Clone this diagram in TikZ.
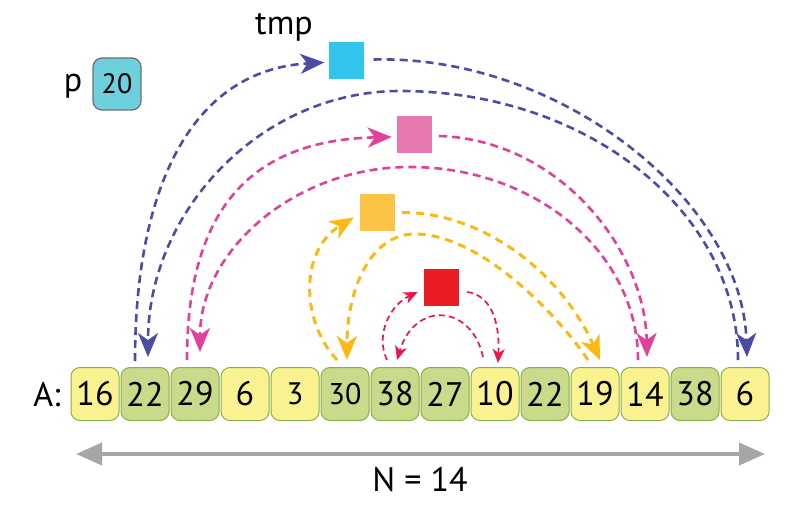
\documentclass[tikz,border=0pt]{standalone}
\usepackage{fontspec}
\setmainfont{PT Sans}
\usetikzlibrary{arrows.meta,calc}
\definecolor{cellY}{HTML}{FAF291}
\definecolor{cellG}{HTML}{C9DA8B}
\definecolor{cellB}{HTML}{8BAE48}
\definecolor{pfill}{HTML}{6ECFDD}
\definecolor{pbord}{HTML}{6D6E71}
\definecolor{sqB}{HTML}{33C4EC}
\definecolor{sqP}{HTML}{E678AF}
\definecolor{sqY}{HTML}{FCC447}
\definecolor{sqR}{HTML}{EC1C24}
\definecolor{arB}{HTML}{4A4DA3}
\definecolor{arP}{HTML}{E0429A}
\definecolor{arY}{HTML}{FDB913}
\definecolor{arR}{HTML}{E8184A}
\definecolor{grayA}{HTML}{A6A6A6}
\begin{document}
\begin{tikzpicture}[x=1pt,y=-1pt,
  cell/.style={draw=cellB, line width=1pt, rounded corners=9pt, minimum width=48pt, minimum height=53pt, inner sep=0pt, font=\fontsize{34}{34}\selectfont},
  cy/.style={cell, fill=cellY},
  cg/.style={cell, fill=cellG},
  sq/.style={minimum width=35pt, minimum height=37pt, inner sep=0pt},
  lbl/.style={font=\fontsize{34}{34}\selectfont, inner sep=0pt, anchor=base},
  bigtip/.style={-{Stealth[length=24pt,width=20pt,inset=7pt]}},
  smalltip/.style={-{Stealth[length=14pt,width=12pt,inset=4pt]}},
  bl/.style={draw=arB, line width=2.6pt, dash pattern=on 8pt off 5pt, bigtip},
  pk/.style={draw=arP, line width=2.6pt, dash pattern=on 8pt off 5pt, bigtip},
  yl/.style={draw=arY, line width=3pt, dash pattern=on 8pt off 6pt, bigtip},
  rd/.style={draw=arR, line width=1.7pt, dash pattern=on 6pt off 4pt, smalltip},
  grayarr/.style={draw=grayA, line width=4pt, {Triangle[length=26pt,width=22pt]}-{Triangle[length=26pt,width=22pt]}}
]
\useasboundingbox (0,0) rectangle (802,505);

% labels
\node[lbl] (lp) at (73,92) {p};
\node[lbl] (ltmp) at (284,35) {tmp};
\node[lbl] (lA) at (47,406) {A:};
\node[lbl] (lN) at (420,491) {N = 14};

% p box
\node[draw=pbord, line width=1.2pt, fill=pfill, rounded corners=9pt, minimum width=48pt, minimum height=52pt, inner sep=0pt, font=\fontsize{28}{28}\selectfont] (pbox) at (117,84) {20};

% array cells
\node[cy] (c0) at (95,394) {16};
\node[cg] (c1) at (145,394) {22};
\node[cg] (c2) at (195,394) {29};
\node[cy] (c3) at (245,394) {6};
\node[cy, font=\fontsize{31}{31}\selectfont] (c4) at (295,394) {3};
\node[cg, font=\fontsize{30}{30}\selectfont] (c5) at (345,394) {30};
\node[cg] (c6) at (395,394) {38};
\node[cg] (c7) at (445,394) {27};
\node[cy] (c8) at (495,394) {10};
\node[cg] (c9) at (545,394) {22};
\node[cy] (c10) at (595,394) {19};
\node[cy] (c11) at (645,394) {14};
\node[cg] (c12) at (695,394) {38};
\node[cy] (c13) at (745,394) {6};

% tmp squares
\node[sq, fill=sqB] (tb) at (346,60.5) {};
\node[sq, fill=sqP] (tp) at (414.5,135) {};
\node[sq, fill=sqY] (ty) at (377.5,212.5) {};
\node[sq, fill=sqR] (tr) at (441.5,287) {};

% blue swap
\draw[bl] ($(c1.north)+(-10,-6)$) .. controls (135,190) and (190,70) .. ($(tb.west)+(-4,2)$);
\draw[bl] ($(tb.east)+(10,-1)$) .. controls (560,55) and (742,200) .. ($(c13.north)+(2,-10)$);
\draw[bl] ($(c13.north)+(-7,-7)$) .. controls (738,211) and (587,91) .. (400,91) .. controls (261,91) and (148,211) .. ($(c1.north)+(3,-10)$);

% pink swap
\draw[pk] ($(c2.north)+(-8,-7)$) .. controls (187,210) and (250,140) .. ($(tp.west)+(-5,2)$);
\draw[pk] ($(tp.east)+(7,1)$) .. controls (560,140) and (645,250) .. ($(c11.north)+(2,-10)$);
\draw[pk] ($(c11.north)+(-7,-7)$) .. controls (638,253) and (536,167) .. (410,167) .. controls (294,167) and (200,251) .. ($(c2.north)+(5,-15)$);

% yellow swap
\draw[yl] ($(c5.north)+(-8,-7)$) .. controls (300,320) and (300,250) .. ($(ty.west)+(-6,5)$);
\draw[yl] ($(ty.east)+(7,0)$) .. controls (480,212) and (560,270) .. ($(c10.north)+(5,-7)$);
\draw[yl] ($(c10.north)+(-7,-7)$) .. controls (558,315) and (480,234) .. (415,234) .. controls (370,234) and (347,290) .. ($(c5.north)+(2,-7)$);

% red swap
\draw[rd] ($(c6.north)+(-8,-7)$) .. controls (375,335) and (390,305) .. ($(tr.west)+(-6,5)$);
\draw[rd] ($(tr.east)+(8,5)$) .. controls (490,295) and (500,320) .. ($(c8.north)+(3,-4)$);
\draw[rd] ($(c8.north)+(-12,-10)$) .. controls (472,305) and (415,300) .. ($(c6.north)+(2,-7)$);

% size arrow
\coordinate (gl) at (76,454);
\coordinate (gr) at (765,454);
\draw[grayarr] (gl) -- (gr);
\end{tikzpicture}
\end{document}
